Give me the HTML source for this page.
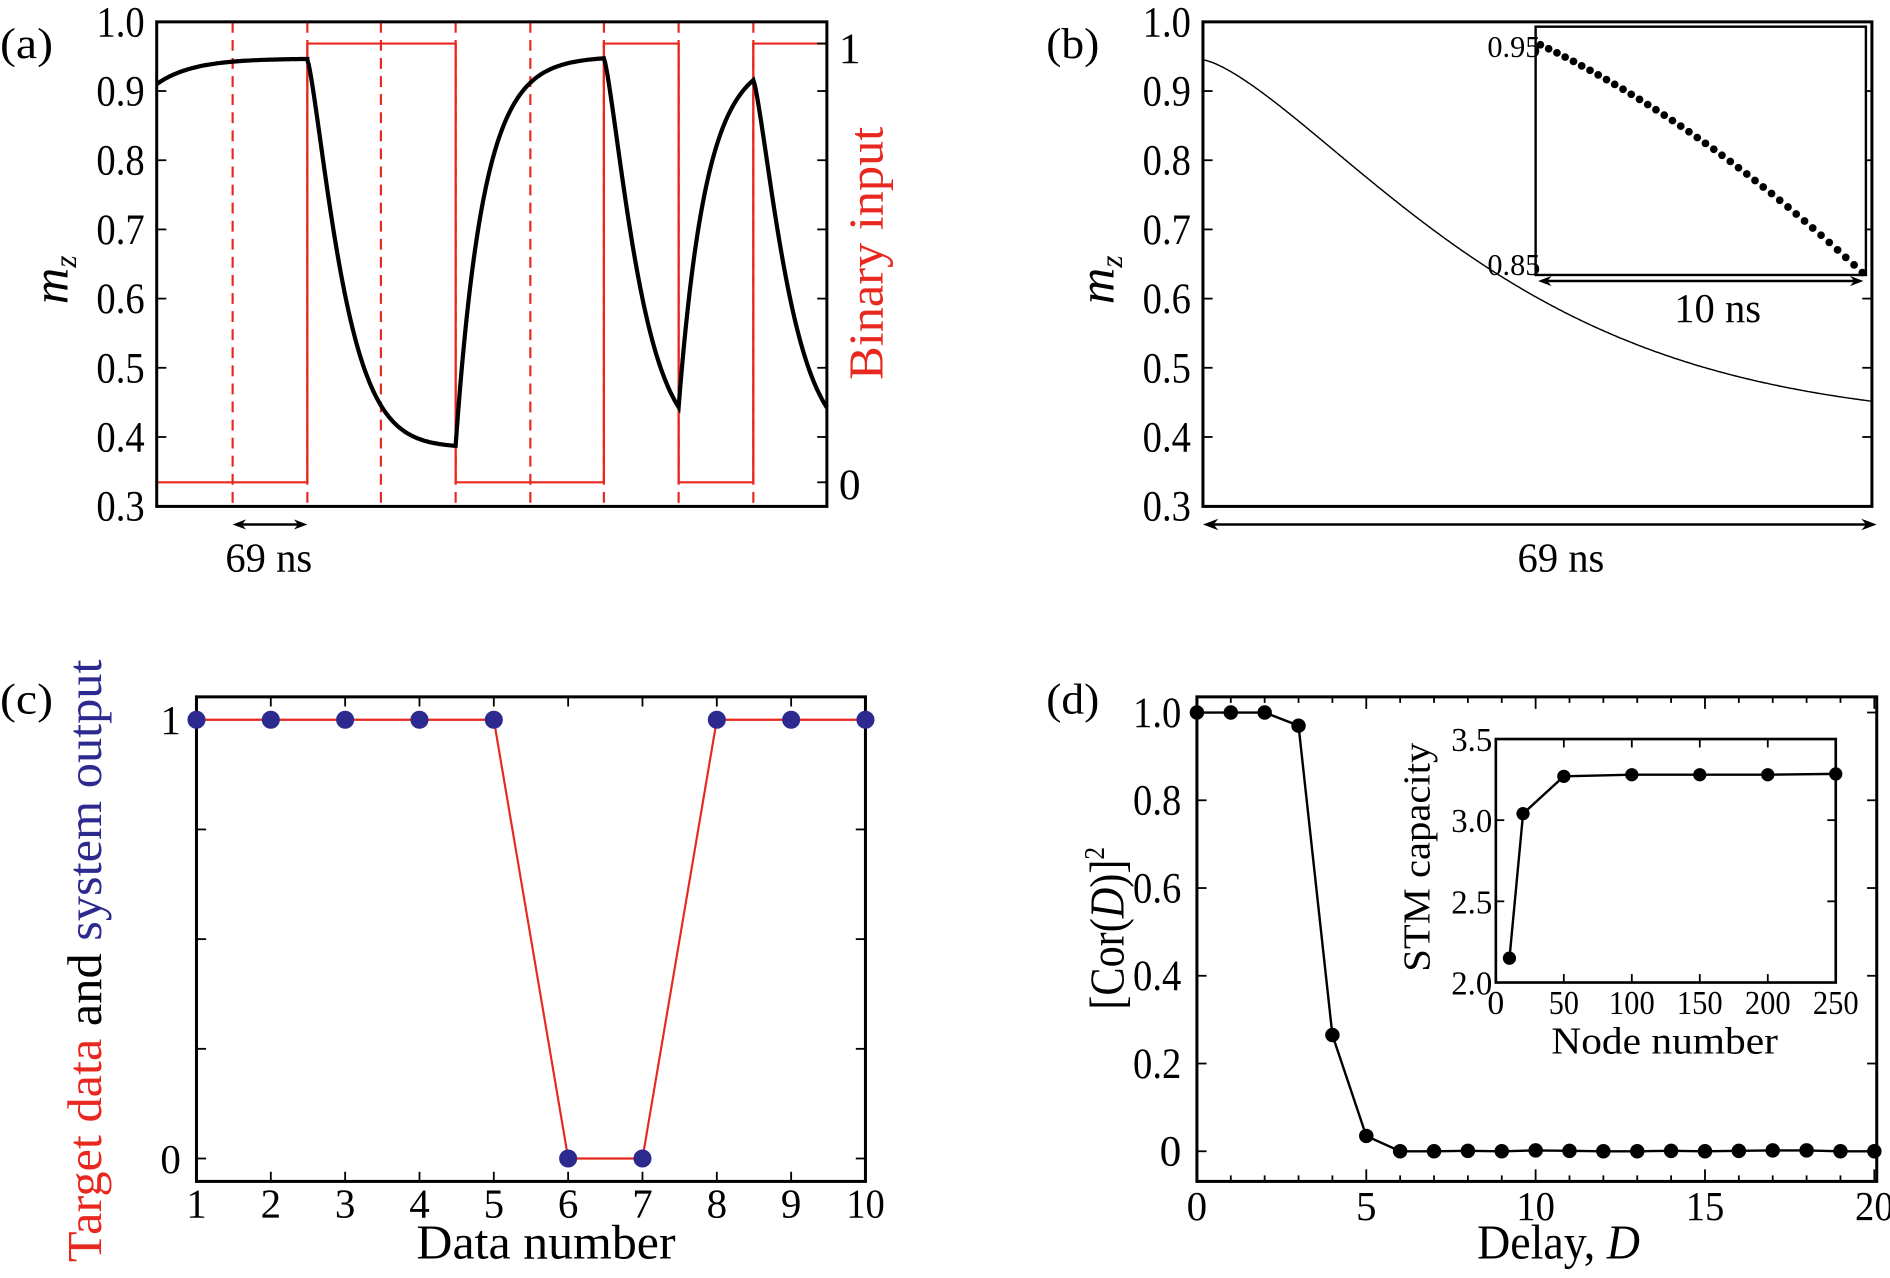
<!DOCTYPE html>
<html><head><meta charset="utf-8"><style>html,body{margin:0;padding:0;background:#fff}svg{display:block}text{font-family:"Liberation Serif","Times New Roman",serif}</style></head>
<body>
<svg id="s" width="1890" height="1278" viewBox="0 0 1568 1060" xmlns="http://www.w3.org/2000/svg"></svg>
<script>
const s=document.getElementById('s');let h='';
const R='#e8281e',B='#2d2a8f';
function T(x,y,t,o={}){const sz=o.size||34,anc=o.anchor||'middle',col=o.color||'#000',rot=o.rot;
 let tr=rot?` transform="rotate(${rot} ${x} ${y})"`:'';
 h+=`<g${tr}><text x="${x}" y="${y}" font-family="Liberation Serif, Times New Roman, serif" font-size="${sz}" text-anchor="${anc}" fill="${col}" ${o.tl?`textLength="${o.tl}" lengthAdjust="spacingAndGlyphs"`:''} ${o.style||''}>${t}</text></g>`;}
function L(x1,y1,x2,y2,c='#000',w=1.5,d=''){h+=`<line x1="${x1}" y1="${y1}" x2="${x2}" y2="${y2}" stroke="${c}" stroke-width="${w}" ${d?`stroke-dasharray="${d}"`:''}/>`;}
function P(pts,c='#000',w=1.5){h+=`<polyline points="${pts.map(p=>p[0].toFixed(1)+','+p[1].toFixed(1)).join(' ')}" fill="none" stroke="${c}" stroke-width="${w}"/>`;}
function box(x1,y1,x2,y2,w=2.5){h+=`<rect x="${x1}" y="${y1}" width="${x2-x1}" height="${y2-y1}" fill="none" stroke="#000" stroke-width="${w}"/>`;}
function arrow(x1,x2,y,sz=10){L(x1+4,y,x2-4,y,'#000',2);h+=`<path d="M${x1},${y} L${x1+sz*1.6},${y-sz*0.6} L${x1+sz*1.1},${y} L${x1+sz*1.6},${y+sz*0.6}Z M${x2},${y} L${x2-sz*1.6},${y-sz*0.6} L${x2-sz*1.1},${y} L${x2-sz*1.6},${y+sz*0.6}Z" fill="#000"/>`;}
// ---------- (a)
const ay=m=>18+(1-m)*574;
[193,255,316,378,440,501,563,625].forEach(x=>L(x,18,x,420,R,1.8,'9,6'));
[255,378,501,563,625].forEach(x=>L(x,36,x,400,R,1.8));
P([[130,400],[255,400],[255,36],[378,36],[378,400],[501,400],[501,36],[563,36],[563,400],[625,400],[625,36],[686,36]],R,1.8);
let pts=[];
for(let x=130;x<=255;x++)pts.push([x,ay(0.947-0.037*Math.exp(-(x-130)/30))]);
function drop(x0,x1,m0){for(let x=x0;x<=x1;x++){const t=x-x0;pts.push([x,ay(0.385+(m0-0.385)*Math.exp(-Math.pow(t/33,1.3)))]);}return 0.385+(m0-0.385)*Math.exp(-Math.pow((x1-x0)/33,1.3));}
function rise(x0,x1,m0){for(let x=x0;x<=x1;x++){const t=x-x0;pts.push([x,ay(0.95-(0.95-m0)*Math.exp(-t/23))]);}return 0.95-(0.95-m0)*Math.exp(-(x1-x0)/23);}
let m=drop(255,378,0.945);m=rise(378,501,m);m=drop(501,563,m);m=rise(563,625,m);m=drop(625,686,m);
P(pts,'#000',3.5);
box(130,18,686,420);
for(let i=0;i<=7;i++){const y=18+i*57.4;L(130,y,138,y);L(686,y,678,y);T(120,y+12,(1.0-i*0.1).toFixed(1),{anchor:'end',size:36,tl:40});}
L(686,36,678,36);L(686,400,678,400);
T(696,52,'1',{anchor:'start',size:36});T(696,414,'0',{anchor:'start',size:36});
T(732,210,'Binary input',{rot:-90,color:R,size:40,tl:210});
T(56,232,'<tspan font-style="italic">m</tspan><tspan font-size="26" font-style="italic" dy="7">z</tspan>',{rot:-90,size:42});
T(22,48,'(a)',{size:36,tl:44});
arrow(193,255,435,7);T(223,474,'69 ns',{size:34,tl:72});
// ---------- (b)
for(let i=0;i<=7;i++){const y=18+i*57.4;L(998,y,1006,y);L(1553,y,1545,y);T(988,y+12,(1.0-i*0.1).toFixed(1),{anchor:'end',size:36,tl:40});}
pts=[];for(let x=998;x<=1553;x++){const t=(x-998)/555*69;pts.push([x,ay(0.42+0.525*Math.exp(-Math.pow(t/33,1.4)))]);}
P(pts,'#000',1.2);
box(998,18,1553,420);
h+=`<rect x="1274" y="22" width="274" height="206" fill="#fff" stroke="#000" stroke-width="2"/>`;
for(let i=0;i<40;i++){const f=i/39;const x=1278+f*267;const y=37+189*(0.68*f+0.32*f*f);h+=`<circle cx="${x.toFixed(1)}" cy="${y.toFixed(1)}" r="3.2"/>`;}
T(1278,47,'0.95',{anchor:'end',size:25,tl:44});T(1278,228,'0.85',{anchor:'end',size:25,tl:44});
arrow(1276,1546,233,7);T(1425,267,'10 ns',{size:34,tl:72});
arrow(998,1557,435,8);T(1295,474,'69 ns',{size:34,tl:72});
T(924,232,'<tspan font-style="italic">m</tspan><tspan font-size="26" font-style="italic" dy="7">z</tspan>',{rot:-90,size:42});
T(890,48,'(b)',{size:36,tl:44});
// ---------- (c)
const cx=n=>163+(n-1)*61.67, cy=v=>961-v*364;
const dat=[1,1,1,1,1,0,0,1,1,1];
box(163,578,718,980);
for(let n=1;n<=10;n++){L(cx(n),980,cx(n),972);L(cx(n),578,cx(n),586);T(cx(n),1010,n,{size:34,tl:n==10?32:null});}
for(let i=0;i<=4;i++){const y=cy(i/4);L(163,y,171,y);L(718,y,710,y);}
T(150,973,'0',{anchor:'end',size:34});T(150,609,'1',{anchor:'end',size:34});
P(dat.map((v,i)=>[cx(i+1),cy(v)]),R,1.8);
dat.forEach((v,i)=>h+=`<circle cx="${cx(i+1)}" cy="${cy(v)}" r="7.5" fill="${B}"/>`);
T(453,1044,'Data number',{size:40,tl:215});
h+=`<g transform="rotate(-90 84 797)"><text x="84" y="797" font-family="Liberation Serif, Times New Roman, serif" font-size="40" text-anchor="middle" textLength="500" lengthAdjust="spacingAndGlyphs"><tspan fill="${R}">Target data</tspan> and <tspan fill="${B}">system output</tspan></text></g>`;
T(22,592,'(c)',{size:36,tl:44});
// ---------- (d)
const dx=n=>993+n*28.1, dy=v=>955-v*364;
box(993,578,1557,980);
for(let n=0;n<=20;n++){const big=n%5==0;L(dx(n),980,dx(n),big?970:975);L(dx(n),578,dx(n),big?588:583);}
[0,5,10,15,20].forEach(n=>T(dx(n),1012,n,{size:34,tl:n>=10?32:null}));
for(let i=0;i<=5;i++){const v=i*0.2,y=dy(v);L(993,y,1001,y);L(1557,y,1549,y);T(980,y+12,i==0?'0':v.toFixed(1),{anchor:'end',size:36,tl:i==0?null:40});}
const dd=[1,1,1,0.97,0.265,0.035,0,0,0.001,0,0.002,0.001,0,0,0.001,0,0.001,0.002,0.002,0,0];
P(dd.map((v,i)=>[dx(i),dy(v)]),'#000',2);dd.forEach((v,i)=>h+=`<circle cx="${dx(i)}" cy="${dy(v)}" r="6"/>`);
h+=`<rect x="1241" y="613" width="282" height="202" fill="#fff" stroke="#000" stroke-width="2.2"/>`;
const ix=n=>1241+n*1.128, iy=v=>815-(v-2)*134.7;
[0,50,100,150,200,250].forEach(n=>{L(ix(n),815,ix(n),808);L(ix(n),613,ix(n),620);T(ix(n),841,n,{size:28,tl:n==0?null:(n<100?25:38)});});
[2,2.5,3,3.5].forEach(v=>{L(1241,iy(v),1248,iy(v));L(1523,iy(v),1516,iy(v));T(1238,iy(v)+10,v.toFixed(1),{anchor:'end',size:28,tl:34});});
const id=[[10,2.15],[20,3.04],[50,3.27],[100,3.28],[150,3.28],[200,3.28],[250,3.285]];
P(id.map(([n,v])=>[ix(n),iy(v)]),'#000',2);id.forEach(([n,v])=>h+=`<circle cx="${ix(n)}" cy="${iy(v)}" r="5.5"/>`);
T(1381,874,'Node number',{size:32,tl:188});
T(1186,711,'STM capacity',{rot:-90,size:32,tl:190});
T(1293,1044,'Delay, <tspan font-style="italic">D</tspan>',{size:40,tl:135});
T(932,770,'[Cor(<tspan font-style="italic">D</tspan>)]<tspan font-size="24" dy="-16">2</tspan>',{rot:-90,size:40,tl:135});
T(890,592,'(d)',{size:36,tl:44});
s.innerHTML=h;
</script>
</body></html>
